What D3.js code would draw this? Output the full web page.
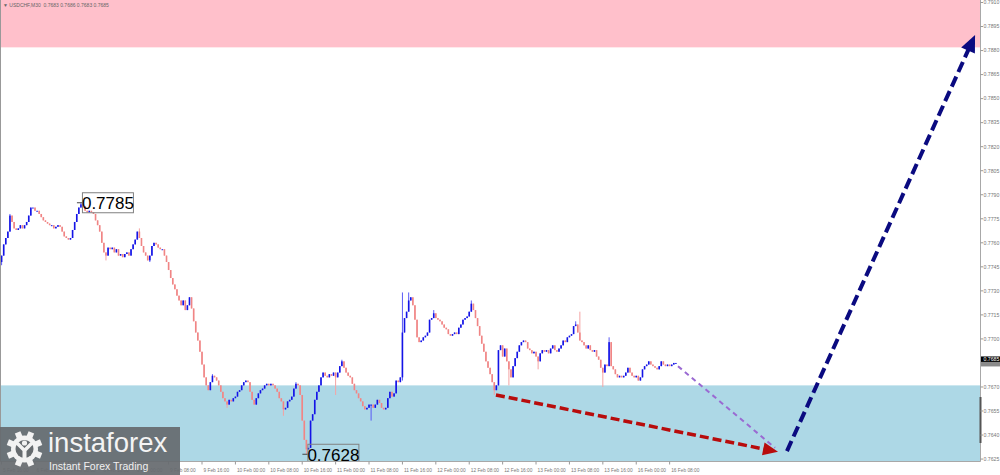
<!DOCTYPE html>
<html><head><meta charset="utf-8">
<script src="https://cdn.jsdelivr.net/npm/d3@7"></script>
<style>html,body{margin:0;padding:0;background:#fff;overflow:hidden}svg{display:block}</style>
</head><body><svg id="c" width="1000" height="475"></svg>
<script>
// ---------- DATA ----------
const chartTitle = "\u25BC USDCHF,M30  0.7683 0.7686 0.7683 0.7685";
const lastPriceLabel = "0.7685";
const pipBase = 0.7600; // closes are stored as pips above this base
const firstOpenPips = 148;
const closesPips = [
152,159,163,167,177,173,169,168,169,171,
169,171,173,177,182,182,180,180,178,176,
174,173,172,171,171,169,170,171,170,167,
164,163,162,163,168,173,178,182,184,183,
180,179,180,179,178,174,171,167,160,154,
152,157,156,157,154,156,152,153,151,153,
154,152,156,159,162,167,163,158,154,152,
149,152,158,160,159,157,156,156,152,148,
143,138,134,131,127,124,121,124,118,121,
126,119,111,104,99,92,84,76,71,68,
73,77,76,74,71,67,63,61,59,62,
61,63,64,67,68,71,73,74,73,67,
62,59,63,66,68,69,71,72,71,72,
71,69,67,63,61,56,57,61,62,64,
69,72,71,65,49,37,31,32,49,53,
62,67,71,76,79,77,76,78,77,79,
76,79,83,86,82,79,77,76,72,68,
66,63,61,58,56,57,59,59,57,59,
62,60,57,56,57,63,67,64,66,74,
73,76,104,113,117,124,126,121,112,101,
98,99,101,102,104,112,113,116,113,112,
111,109,107,106,103,102,103,104,103,107,
109,112,113,114,117,122,118,113,108,102,
97,92,86,82,78,73,68,71,93,96,
89,94,86,81,76,83,88,92,96,98,
99,98,94,93,91,92,89,86,91,93,
92,93,91,94,96,93,92,94,96,99,
98,101,102,103,108,109,104,99,98,96,
94,96,93,92,93,89,87,82,79,84,
83,98,83,81,78,76,77,76,77,79,
82,79,77,76,77,74,76,81,83,84,
86,84,83,82,81,83,86,84,83,84,
83,84,85,85
];
// visible wick extremes (pips above base) for individual candles
const wickHighIdx = [0,4,38,66,101,141,163,192,195,207,225,275,277,291];
const wickHighPips = [150,178,185,169,78,73,87,129,129,118,124,111,117,101];
const wickLowIdx = [0,50,71,108,135,146,160,177,192,236,243,257,288];
const wickLowPips = [146,149,148,57,52,28,65,49,74,65,71,81,70];

const priceTicks = [0.7910,0.7895,0.7880,0.7865,0.7850,0.7835,0.7820,0.7805,0.7790,0.7775,0.7760,0.7745,0.7730,0.7715,0.7700,0.7670,0.7655,0.7640,0.7625];
const timeTickIdx = [0,16,32,48,64,80,96,112,128,144,160,176,192,208,224,240,256,272,288,304,320];
const timeTickText = ["5 Feb 16:00","6 Feb 00:00","6 Feb 08:00","6 Feb 16:00","9 Feb 00:00","9 Feb 08:00","9 Feb 16:00","10 Feb 00:00","10 Feb 08:00","10 Feb 16:00","11 Feb 00:00","11 Feb 08:00","11 Feb 16:00","12 Feb 00:00","12 Feb 08:00","12 Feb 16:00","13 Feb 00:00","13 Feb 08:00","13 Feb 16:00","16 Feb 00:00","16 Feb 08:00"];

const resistanceZone = [0.7882, 0.7960];
const supportZone = [0.7560, 0.7671];

const extremeLabelIdx = [38, 146];
const extremeLabelPrice = [0.7785, 0.7628];

// forecast arrows: [candle index, price]
const redArrow = [[236.8, 0.7665],[371.9, 0.76295]];
const purpleLine = [[324, 0.7683],[370.5, 0.7632]];
const navyArrow = [[376.2, 0.7630],[466.3, 0.78897]];

// ---------- SCALES ----------
const svg = d3.select("#c");
const plotRight = 980.5, plotBottom = 461.5;
const x = d3.scaleLinear().domain([0, 323]).range([1.6, 675.9]);
const y = d3.scaleLinear().domain([0.7625, 0.7910]).range([459.07, 2.5]);
const P = p => pipBase + p / 10000;

svg.append("defs").append("clipPath").attr("id","plot")
  .append("rect").attr("x",0).attr("y",0).attr("width",plotRight).attr("height",plotBottom);
const plot = svg.append("g").attr("clip-path","url(#plot)");

// zones
[[resistanceZone,"#ffc0cb"],[supportZone,"#add8e6"]].forEach(([z,col])=>{
  plot.append("rect").attr("x",0).attr("width",plotRight)
    .attr("y", y(z[1])).attr("height", y(z[0]) - y(z[1])).attr("fill", col);
});

// candles
const hiMap = new Map(wickHighIdx.map((d,k)=>[d, wickHighPips[k]]));
const loMap = new Map(wickLowIdx.map((d,k)=>[d, wickLowPips[k]]));
const candles = closesPips.map((c,i)=>{
  const o = i===0 ? firstOpenPips : closesPips[i-1];
  const h = Math.max(o, c, hiMap.has(i)?hiMap.get(i):-1);
  const l = Math.min(o, c, loMap.has(i)?loMap.get(i):999);
  return {i, o:P(o), c:P(c), h:P(h), l:P(l), up: c>=o};
});
const cg = plot.append("g");
cg.selectAll("line").data(candles).join("line")
  .attr("x1", d=>x(d.i)).attr("x2", d=>x(d.i))
  .attr("y1", d=>y(d.h)).attr("y2", d=>y(d.l))
  .attr("stroke", d=>d.up ? "#5a5af5" : "#f4a3a3").attr("stroke-width",1);
cg.selectAll("rect").data(candles).join("rect")
  .attr("x", d=>x(d.i)-0.8).attr("width",1.6)
  .attr("y", d=>y(Math.max(d.o,d.c)))
  .attr("height", d=>Math.max(1, y(Math.min(d.o,d.c)) - y(Math.max(d.o,d.c))))
  .attr("fill", d=>d.up ? "#1414e6" : "#f08585");

// extreme labels
extremeLabelIdx.forEach((idx,k)=>{
  const px = x(idx), py = y(extremeLabelPrice[k]);
  plot.append("line").attr("x1",px-4).attr("x2",px+1.5).attr("y1",py).attr("y2",py)
    .attr("stroke","#444").attr("stroke-width",1);
  plot.append("rect").attr("x",px+1.5).attr("y",py-10).attr("width",51).attr("height",20)
    .attr("fill","none").attr("stroke","#808080").attr("stroke-width",1);
  plot.append("text").attr("x",px+27).attr("y",py+6.5).attr("text-anchor","middle")
    .attr("font-family","Liberation Sans, Arial, sans-serif").attr("font-size",17)
    .attr("fill","#000").text(d3.format(".4f")(extremeLabelPrice[k]));
});

// arrows
function dashed(pts, color, width, dash, head){
  const p0=[x(pts[0][0]),y(pts[0][1])], p1=[x(pts[1][0]),y(pts[1][1])];
  const ang = Math.atan2(p1[1]-p0[1], p1[0]-p0[0]);
  let end = p1;
  if (head) end = [p1[0]-Math.cos(ang)*head[0]*0.8, p1[1]-Math.sin(ang)*head[0]*0.8];
  svg.append("line").attr("x1",p0[0]).attr("y1",p0[1]).attr("x2",end[0]).attr("y2",end[1])
    .attr("stroke",color).attr("stroke-width",width).attr("stroke-dasharray",dash);
  if (head){
    const L=head[0], W=head[1];
    const bx=p1[0]-Math.cos(ang)*L, by=p1[1]-Math.sin(ang)*L;
    const nx=-Math.sin(ang)*W, ny=Math.cos(ang)*W;
    svg.append("path").attr("d",`M${p1[0]},${p1[1]}L${bx+nx},${by+ny}L${bx-nx},${by-ny}Z`)
      .attr("fill",color);
  }
}
dashed(purpleLine, "#9a6ad2", 2, "5,4", null);
dashed(redArrow, "#b80c0c", 3.5, "9,4", [15,6.5]);
dashed(navyArrow, "#0a0a80", 4, "11,5", [17,7.5]);

// frame
svg.append("line").attr("x1",0.5).attr("x2",0.5).attr("y1",0).attr("y2",plotBottom).attr("stroke","#999");
svg.append("line").attr("x1",plotRight).attr("x2",plotRight).attr("y1",0).attr("y2",plotBottom).attr("stroke","#a8a8a8");
svg.append("line").attr("x1",0).attr("x2",plotRight).attr("y1",plotBottom).attr("y2",plotBottom).attr("stroke","#a8a8a8");
svg.append("line").attr("x1",plotRight).attr("x2",plotRight).attr("y1",397).attr("y2",443).attr("stroke","#555").attr("stroke-width",2);

// price axis
const ya = svg.append("g");
priceTicks.forEach(p=>{
  ya.append("line").attr("x1",plotRight).attr("x2",plotRight+2.5).attr("y1",y(p)).attr("y2",y(p)).attr("stroke","#999");
  ya.append("text").attr("x",983.5).attr("y",y(p)).attr("dy","0.35em")
    .attr("font-family","Liberation Sans, Arial, sans-serif").attr("font-size",5.2)
    .attr("fill","#777").text(d3.format(".4f")(p));
});
const lp = +lastPriceLabel;
ya.append("rect").attr("x",plotRight+0.5).attr("y",y(lp)-6.5).attr("width",19).attr("height",5.5).attr("fill","#000");
ya.append("text").attr("x",983.5).attr("y",y(lp)-3.7).attr("dy","0.35em")
  .attr("font-family","Liberation Sans, Arial, sans-serif").attr("font-size",5.2).attr("fill","#fff").text(lastPriceLabel);
ya.append("rect").attr("x",plotRight+0.5).attr("y",y(lp)-1).attr("width",19).attr("height",4.5).attr("fill","#8a8a8a");

// time axis
timeTickIdx.forEach((idx,k)=>{
  svg.append("line").attr("x1",x(idx)).attr("x2",x(idx)).attr("y1",plotBottom).attr("y2",plotBottom+3).attr("stroke","#999");
  svg.append("text").attr("x",x(idx)+1.5).attr("y",471.5)
    .attr("font-family","Liberation Sans, Arial, sans-serif").attr("font-size",4.8)
    .attr("fill","#777").text(timeTickText[k]);
});

// title
svg.append("text").attr("x",3).attr("y",7).attr("xml:space","preserve")
  .attr("font-family","Liberation Sans, Arial, sans-serif").attr("font-size",5)
  .attr("fill","#666").text(chartTitle);

// logo
const lg = svg.append("g");
lg.append("rect").attr("x",0).attr("y",427).attr("width",180).attr("height",48).attr("fill","#666b6f").attr("opacity",0.93);
const gx=24.5, gy=449;
for(let k=0;k<8;k++){
  lg.append("rect").attr("x",gx-3).attr("y",gy-18).attr("width",6).attr("height",8)
    .attr("fill","#f2f2f2").attr("transform",`rotate(${k*45+22.5},${gx},${gy})`);
}
lg.append("circle").attr("cx",gx).attr("cy",gy).attr("r",13.5).attr("fill","#f2f2f2");
lg.append("circle").attr("cx",gx).attr("cy",gy).attr("r",9).attr("fill","#666b6f");
lg.append("circle").attr("cx",gx).attr("cy",gy-6).attr("r",2.6).attr("fill","#f2f2f2");
lg.append("path").attr("d",`M${gx-9},${gy-5}L${gx-2},${gy+2}L${gx-2},${gy+10}L${gx+2},${gy+10}L${gx+2},${gy+2}L${gx+9},${gy-5}L${gx+6},${gy-7}L${gx},${gy-1}L${gx-6},${gy-7}Z`)
  .attr("fill","#f2f2f2");
lg.append("text").attr("x",48).attr("y",452).attr("font-family","Liberation Sans, Arial, sans-serif")
  .attr("font-size",27.5).attr("fill","#f4f4f4").text("instaforex");
lg.append("text").attr("x",49).attr("y",469.5).attr("font-family","Liberation Sans, Arial, sans-serif")
  .attr("font-size",10.5).attr("fill","#f0f0f0").text("Instant Forex Trading");
</script></body></html>
